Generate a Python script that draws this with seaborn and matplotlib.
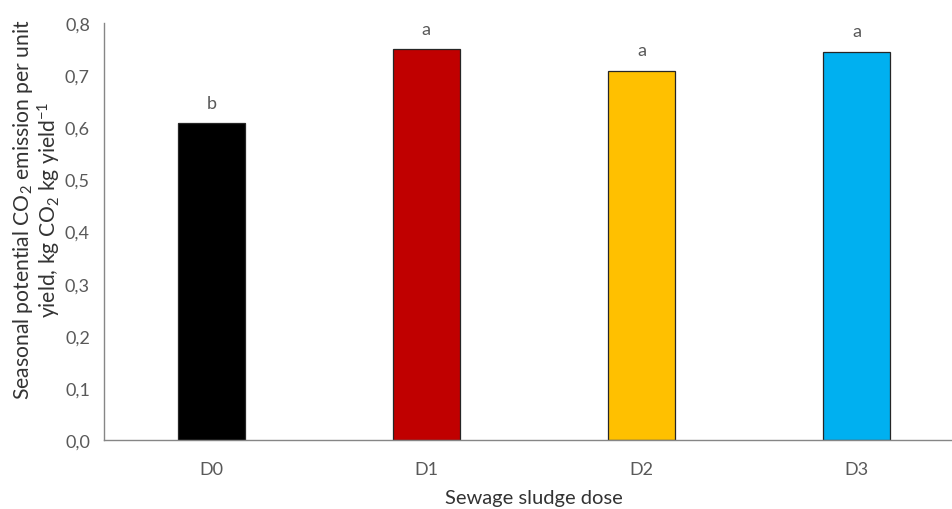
import matplotlib
matplotlib.use("Agg")
import matplotlib.pyplot as plt
import seaborn as sns
import pandas as pd

# data
doses = ["D0", "D1", "D2", "D3"]
emission = [0.608, 0.750, 0.708, 0.745]
letters = ["b", "a", "a", "a"]
bar_colors = ["#000000", "#C00000", "#FFC000", "#00B0F0"]
y_ticks = [0.0, 0.1, 0.2, 0.3, 0.4, 0.5, 0.6, 0.7, 0.8]

sns.set_style("white")
plt.rcParams["font.family"] = ["Lato", "DejaVu Sans"]
plt.rcParams["mathtext.fontset"] = "custom"
plt.rcParams["mathtext.rm"] = "Lato"
plt.rcParams["mathtext.it"] = "Lato:italic"

df = pd.DataFrame({"dose": doses, "value": emission})

fig = plt.figure(figsize=(9.52, 5.10), dpi=100)
ax = fig.add_axes([0.109, 0.1353, 0.9036, 0.8176])

sns.barplot(data=df, x="dose", y="value", hue="dose", palette=bar_colors,
            legend=False, width=0.31, edgecolor="#262626", linewidth=0.9,
            saturation=1, ax=ax)

for i, (v, t) in enumerate(zip(emission, letters)):
    ax.annotate(t, (i, v), xytext=(0, 9), textcoords="offset points",
                ha="center", va="bottom", fontsize=13, color="#595959")

ax.set_xlim(-0.5, 3.5)
ax.set_ylim(0, 0.8)
ax.set_yticks(y_ticks)
ax.set_yticklabels([f"{t:.1f}".replace(".", ",") for t in y_ticks])

ax.set_xlabel("Sewage sludge dose", fontsize=14.5, color="#333333", labelpad=9)
ax.set_ylabel("Seasonal potential CO$_2$ emission per unit\n"
              "yield, kg CO$_2$ kg yield$^{-1}$",
              fontsize=15.2, color="#333333", linespacing=1.05)
ax.yaxis.set_label_coords(-0.047, 0.554)

for s in ["top", "right"]:
    ax.spines[s].set_visible(False)
for s in ["left", "bottom"]:
    ax.spines[s].set_color("#868686")
    ax.spines[s].set_linewidth(1)

ax.tick_params(axis="both", direction="out", length=5, width=1,
               color="#868686", labelcolor="#595959", labelsize=13)
ax.tick_params(axis="x", pad=10)
ax.tick_params(axis="y", pad=5)

plt.savefig("out.png", dpi=100)
plt.close()
